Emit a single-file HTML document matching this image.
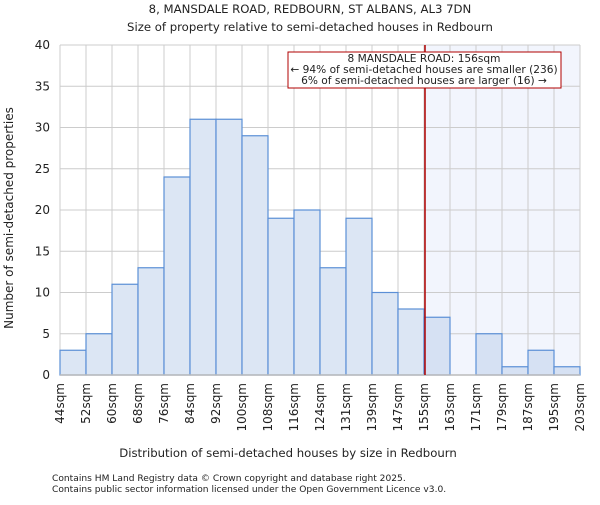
<!DOCTYPE html>
<html><head><meta charset="utf-8"><style>
body{margin:0;background:#fff;}
svg text{font-family:"DejaVu Sans","Liberation Sans",sans-serif;fill:#222;}
</style></head><body>
<svg id="c" width="600" height="500" xmlns="http://www.w3.org/2000/svg">
<text x="310" y="13" text-anchor="middle" font-size="11.7">8, MANSDALE ROAD, REDBOURN, ST ALBANS, AL3 7DN</text>
<text x="310" y="31" text-anchor="middle" font-size="11.7">Size of property relative to semi-detached houses in Redbourn</text>
<g id="plot"></g>
<text x="288" y="457" text-anchor="middle" font-size="11.7">Distribution of semi-detached houses by size in Redbourn</text>
<text transform="translate(13,218) rotate(-90)" text-anchor="middle" font-size="12">Number of semi-detached properties</text>
<text x="52" y="481" font-size="9.1" fill="#444">Contains HM Land Registry data © Crown copyright and database right 2025.</text>
<text x="52" y="492" font-size="9.1" fill="#444">Contains public sector information licensed under the Open Government Licence v3.0.</text>
</svg>
<script>
const categories=["44sqm","52sqm","60sqm","68sqm","76sqm","84sqm","92sqm","100sqm","108sqm","116sqm","124sqm","131sqm","139sqm","147sqm","155sqm","163sqm","171sqm","179sqm","187sqm","195sqm","203sqm"];
const counts=[3,5,11,13,24,31,31,29,19,20,13,19,10,8,7,0,5,1,3,1];
const yTicks=[0,5,10,15,20,25,30,35,40];
const markerBin=14;
const x0=60,x1=580,yTop=45,yBot=375,yMax=40;
const bw=(x1-x0)/counts.length;
const X=i=>x0+i*bw;
const Y=v=>yBot-v/yMax*(yBot-yTop);
const NS="http://www.w3.org/2000/svg";
const g=document.getElementById('plot');
function mk(t,a){const e=document.createElementNS(NS,t);for(const k in a)e.setAttribute(k,a[k]);g.appendChild(e);return e;}
let e=mk('rect',{x:X(markerBin),y:yTop,width:x1-X(markerBin),height:yBot-yTop,fill:'#f2f5fd'});


yTicks.forEach(t=>{
 let l=mk('line',{x1:x0,x2:x1,y1:Y(t),y2:Y(t),stroke:'#ccc'});
 
 
 let tx=mk('text',{x:x0-10,y:Y(t)+4,'text-anchor':'end','font-size':'12'});tx.textContent=t;
 
 
});
categories.forEach((c,i)=>{
 let l=mk('line',{x1:X(i),x2:X(i),y1:yTop,y2:yBot,stroke:'#ccc'});
 
 
 let tx=mk('text',{transform:`translate(${X(i)+4},${yBot+8}) rotate(-90)`,'text-anchor':'end','font-size':'12'});tx.textContent=c;
 
 
});
counts.forEach((v,i)=>{
 if(v<=0)return;
 let r=mk('rect',{x:X(i),y:Y(v),width:bw,height:yBot-Y(v),fill:i>=markerBin?'#d6e1f3':'#dce6f4',stroke:'#5b8fd6','stroke-width':1.2});
 
 
});
let ax=mk('line',{x1:x0,x2:x1,y1:yBot,y2:yBot,stroke:'#bbb','stroke-width':1.5});


let ml=mk('line',{x1:X(markerBin)+1,x2:X(markerBin)+1,y1:yTop,y2:yBot,stroke:'#b00000','stroke-width':1.5});


let bx=mk('rect',{x:288,y:52,width:273,height:36,fill:'#fff',stroke:'#b00000','stroke-width':1});


["8 MANSDALE ROAD: 156sqm","← 94% of semi-detached houses are smaller (236)","6% of semi-detached houses are larger (16) →"].forEach((s,k)=>{
 let t=mk('text',{x:424,y:62+k*11,'text-anchor':'middle','font-size':'10.6'});t.textContent=s;
 
 
});
</script>
</body></html>
